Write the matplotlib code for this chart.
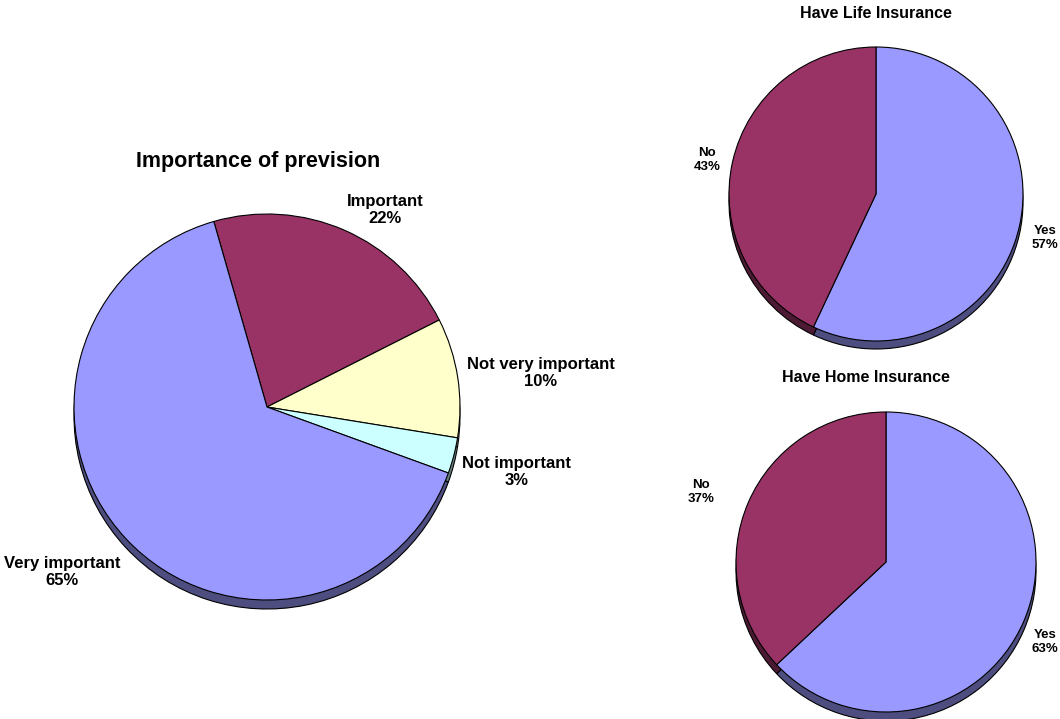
import matplotlib
matplotlib.use("Agg")
import matplotlib.pyplot as plt

plt.rcParams['font.family'] = ['Liberation Sans', 'DejaVu Sans']

# main pie
prev_labels = ["Important", "Not very important", "Not important", "Very important"]
prev_values = [22, 10, 3, 65]
prev_colors = ["#993366", "#FFFFCC", "#CCFFFF", "#9999FF"]
prev_shadow = ["#4D1A33", "#808066", "#668080", "#4D4D80"]

# small pies
yes_no_labels = ["Yes", "No"]
life_values = [57, 43]
home_values = [63, 37]
yn_colors = ["#9999FF", "#993366"]
yn_shadow = ["#4D4D80", "#4D1A33"]

W, H = 1060, 719
fig = plt.figure(figsize=(W / 100, H / 100), dpi=100)
ax = fig.add_axes([0, 0, 1, 1])


def pie3d(values, colors, shadow, center, r, start, depth):
    cx, cy = center
    # darker copy shifted down gives the 3d rim
    ax.pie(values, colors=shadow, center=(cx, H - cy - depth), radius=r,
           startangle=start, counterclock=False, frame=True,
           wedgeprops=dict(edgecolor="black", linewidth=0.8))
    ax.pie(values, colors=colors, center=(cx, H - cy), radius=r,
           startangle=start, counterclock=False, frame=True,
           wedgeprops=dict(edgecolor="black", linewidth=0.8))


def label(x, y, s, size=12):
    ax.text(x, H - y, s, ha="center", va="center", fontsize=size,
            fontweight="bold", linespacing=1.15)


pie3d(prev_values, prev_colors, prev_shadow, (267, 407), 193, 106, 9)
pie3d(life_values, yn_colors, yn_shadow, (876, 194), 147, 90, 8)
pie3d(home_values, yn_colors, yn_shadow, (886, 562), 150, 90, 9)

ax.text(258, H - 161, "Importance of prevision", ha="center", va="center",
        fontsize=15.5, fontweight="bold")
ax.text(876, H - 14, "Have Life Insurance", ha="center", va="center",
        fontsize=11.5, fontweight="bold")
ax.text(866, H - 377, "Have Home Insurance", ha="center", va="center",
        fontsize=11.5, fontweight="bold")

label(385, 210, f"{prev_labels[0]}\n{prev_values[0]}%")
label(541, 373, f"{prev_labels[1]}\n{prev_values[1]}%")
label(517, 472, f"{prev_labels[2]}\n{prev_values[2]}%")
label(62, 572, f"{prev_labels[3]}\n{prev_values[3]}%")

label(707, 160, f"{yes_no_labels[1]}\n{life_values[1]}%", 9.5)
label(1045, 238, f"{yes_no_labels[0]}\n{life_values[0]}%", 9.5)
label(701, 492, f"{yes_no_labels[1]}\n{home_values[1]}%", 9.5)
label(1045, 642, f"{yes_no_labels[0]}\n{home_values[0]}%", 9.5)

ax.set_xlim(0, W)
ax.set_ylim(0, H)
ax.set_aspect("auto")
ax.axis("off")

fig.savefig("out.png", dpi=100)
